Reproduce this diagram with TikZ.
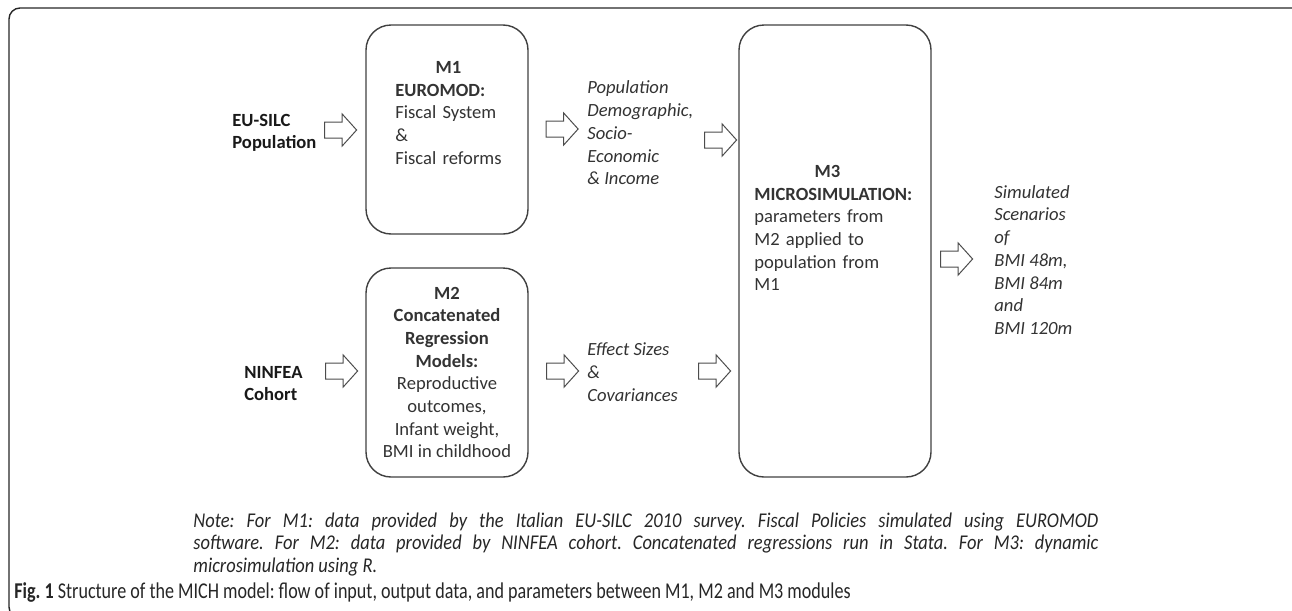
\documentclass[tikz,border=0pt]{standalone}
\usepackage{fontspec}
\setmainfont{Carlito}
\newfontfamily\capfont[FakeStretch=0.8]{Carlito}
\newfontfamily\notefont[FakeStretch=0.88]{Carlito}
\usetikzlibrary{shapes.arrows}
\newcommand{\msize}{\fontsize{9.3pt}{11.35pt}\selectfont}
\tikzset{
  module/.style={draw=black!75, line width=0.7pt, rounded corners=12.5pt, inner sep=0pt},
  blockarrow/.style={single arrow, draw=black!70, line width=0.5pt, inner xsep=0pt, inner ysep=3.75pt,
    minimum height=16pt, minimum width=15.5pt, single arrow head extend=4pt,
    single arrow tip angle=96},
  srclbl/.style={inner sep=0pt, anchor=west, align=left, text=black!90, font=\msize\bfseries},
  modlbl/.style={inner sep=0pt, anchor=west, align=left, text=black!80, font=\msize},
  datalbl/.style={inner sep=0pt, anchor=west, align=left, text=black!80, font=\msize\itshape}
}

\begin{document}
\frenchspacing
\begin{tikzpicture}[x=0.5pt, y=-0.5pt]
\useasboundingbox (0,0) rectangle (1292,611);
\begin{scope}
\clip (0,0) rectangle (1292,611);
\draw[black!85, line width=0.7pt, rounded corners=5.5pt] (9,8) rectangle (1304,618);
\end{scope}

% the three modules
\node[module, minimum width=81pt, minimum height=104.5pt] (m1) at (447,129.5) {};
\node[module, minimum width=81pt, minimum height=104.5pt] (m2) at (447,372.5) {};
\node[module, minimum width=96pt, minimum height=226pt] (m3) at (835,251) {};

\node[modlbl, text width=53pt] (m1txt) at (395,113)
  {\makebox[\linewidth]{\textbf{M1}}\\\textbf{EUROMOD:}\\Fiscal System\\\&\\\mbox{Fiscal reforms}};
\node[modlbl, anchor=center, align=center] (m2txt) at (447,372.5)
  {\textbf{M2}\\\textbf{Concatenated}\\\textbf{Regression}\\\textbf{Models:}\\Reproductive\\outcomes,\\Infant weight,\\BMI in childhood};
\node[modlbl, text width=73pt] (m3txt) at (754,228)
  {\makebox[\linewidth]{\textbf{M3}}\\\mbox{\textbf{MICROSIMULATION:}}\\\mbox{parameters from}\\M2 applied to\\\mbox{population from}\\M1};

% inputs and data
\node[srclbl] (eusilc) at (232,133) {EU-SILC\\Population};
\node[srclbl] (ninfea) at (244,383.5) {NINFEA\\Cohort};
\node[datalbl] (pop) at (587,133) {Population\\Demographic,\\Socio-\\Economic\\\& Income};
\node[datalbl] (eff) at (587,372) {Effect Sizes\\\&\\Covariances};
\node[datalbl] (out) at (994,260) {Simulated\\Scenarios\\of\\BMI 48m,\\BMI 84m\\and\\BMI 120m};

% block arrows
\node[blockarrow] (a1) at (337,130) {};
\node[blockarrow] (a2) at (338,371) {};
\node[blockarrow] (a3) at (558.5,129) {};
\node[blockarrow] (a4) at (717,140) {};
\node[blockarrow] (a5) at (559,371) {};
\node[blockarrow] (a6) at (711,371) {};
\node[blockarrow] (a7) at (953,259) {};

\node[inner sep=0pt, anchor=west, text width=452.5pt, align=justify, text=black!85,
  font=\notefont\fontsize{10.5pt}{11.25pt}\selectfont\itshape] (note) at (193,544.5)
  {Note: For M1: data provided by the Italian EU-SILC 2010 survey. Fiscal Policies simulated using EUROMOD\linebreak
   software. For M2: data provided by NINFEA cohort. Concatenated regressions run in Stata. For M3: dynamic\linebreak
   microsimulation using R.};
\node[inner sep=0pt, anchor=west, text=black!85, font=\capfont\fontsize{11.3pt}{13pt}\selectfont] (cap) at (14,592)
  {\textbf{Fig. 1} Structure of the MICH model: flow of input, output data, and parameters between M1, M2 and M3 modules};
\end{tikzpicture}
\end{document}
